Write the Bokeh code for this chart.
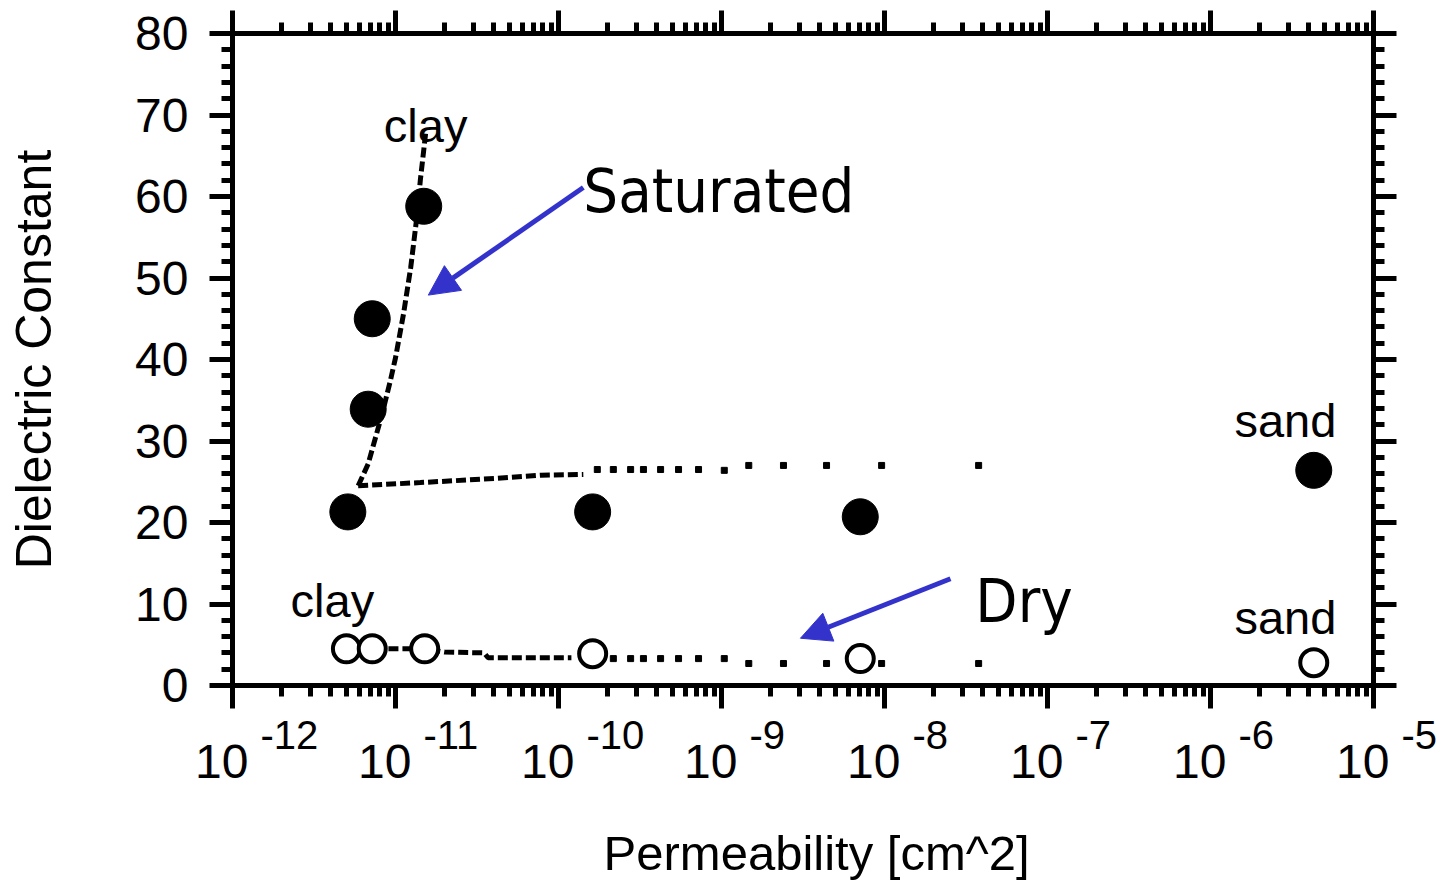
from bokeh.plotting import figure
from bokeh.models import (Range1d, LinearAxis, LogAxis, SingleIntervalTicker, LogTicker,
                          CustomJSTickFormatter, Label, Arrow, NormalHead, ColumnDataSource)
from bokeh.core.properties import value
from bokeh.embed import file_html
from bokeh.resources import INLINE

# ---------------- data ----------------
# measured points, saturated (filled) and dry (open)
sat_perm = [5.1e-12, 6.8e-12, 7.2e-12, 1.49e-11, 1.62e-10, 7.1e-9, 4.3e-6]
sat_eps = [21.3, 33.9, 45.0, 58.8, 21.3, 20.7, 26.4]
dry_perm = [5.0e-12, 7.2e-12, 1.51e-11, 1.62e-10, 7.1e-9, 4.3e-6]
dry_eps = [4.5, 4.5, 4.5, 3.9, 3.3, 2.8]

# model curve, saturated: steep clay branch
sat_fit_v_perm = [5.9e-12, 6.8e-12, 8.3e-12, 9.3e-12, 1.0e-11, 1.12e-11, 1.24e-11, 1.36e-11, 1.42e-11, 1.53e-11]
sat_fit_v_eps = [24.5, 27.2, 33.4, 37.4, 40.2, 45.6, 51.3, 57.9, 62.0, 67.7]
# model curve, saturated: flat branch (dashed part, then sparse dots)
sat_fit_h_perm = [5.9e-12, 1.42e-11, 4.1e-11, 7.8e-11, 1.42e-10]
sat_fit_h_eps = [24.5, 24.9, 25.4, 25.8, 25.9]
sat_dot_perm = [1.73e-10, 2.17e-10, 2.77e-10, 3.32e-10, 4.23e-10, 5.45e-10, 7.23e-10,
                1.04e-9, 1.47e-9, 2.40e-9, 4.41e-9, 9.6e-9, 3.78e-8]
sat_dot_eps = [26.5, 26.5, 26.5, 26.5, 26.5, 26.5, 26.5, 26.4, 27.0, 27.0, 27.0, 27.0, 27.0]

# model curve, dry
dry_fit_perm = [5.0e-12, 1.5e-11, 2.0e-11, 3.5e-11, 3.7e-11, 1.2e-10]
dry_fit_eps = [4.5, 4.5, 4.1, 4.0, 3.4, 3.4]
dry_dot_perm = [2.17e-10, 2.77e-10, 3.32e-10, 4.23e-10, 5.45e-10, 7.23e-10, 1.04e-9,
                1.47e-9, 2.40e-9, 4.41e-9, 9.6e-9, 3.78e-8]
dry_dot_eps = [3.3, 3.3, 3.3, 3.3, 3.3, 3.3, 3.3, 2.7, 2.7, 2.7, 2.7, 2.7]

# x tick labels
tick_exponents = [-12, -11, -10, -9, -8, -7, -6, -5]
tick_base = ["10", "10", "10", "10", "10", "10", "10", "10"]
tick_exp_text = ["-12", "-11", "-10", "-9", "-8", "-7", "-6", "-5"]

x_title = "Permeability [cm^2]"
y_title = "Dielectric Constant"

X_MIN, X_MAX = 1e-12, 1e-5
Y_MIN, Y_MAX = 0, 80

# ---------------- layout constants ----------------
FONT = "Liberation Sans"
CALLOUT_FONT = "DejaVu Sans Condensed"
BLUE = "#3333cc"
W, H = 1446, 881
LEFT, RIGHT, TOP = 232, 73, 33
FRAME_H = 652
MAIN_BOTTOM = 28
MAIN_H = TOP + FRAME_H + MAIN_BOTTOM
STRIP_H = H - MAIN_H

p = figure(width=W, height=MAIN_H, x_axis_type="log",
           x_range=Range1d(X_MIN, X_MAX), y_range=Range1d(Y_MIN, Y_MAX),
           output_backend="svg", toolbar_location=None,
           min_border_left=LEFT, min_border_right=RIGHT, min_border_top=TOP,
           min_border_bottom=MAIN_BOTTOM)
p.outline_line_color = None
p.xgrid.visible = False
p.ygrid.visible = False
p.background_fill_color = "white"
p.border_fill_color = "white"

blank = CustomJSTickFormatter(code="return ''")


def style_axis(ax):
    ax.axis_line_width = 5
    ax.axis_line_color = "black"
    ax.major_tick_line_width = 5
    ax.minor_tick_line_width = 5
    ax.major_tick_line_color = "black"
    ax.minor_tick_line_color = "black"
    ax.major_tick_out = 23
    ax.major_tick_in = 0
    ax.minor_tick_out = 11
    ax.minor_tick_in = 0


# bottom (log) axis: ticks only, labels drawn in the strip below
xb = p.xaxis[0]
xb.ticker = LogTicker(num_minor_ticks=10)
xb.formatter = blank
xb.major_label_text_font_size = "0px"
xb.major_label_standoff = 0
style_axis(xb)

# left axis
yl = p.yaxis[0]
yl.ticker = SingleIntervalTicker(interval=10, num_minor_ticks=5)
style_axis(yl)
yl.major_label_text_font = FONT
yl.major_label_text_font_size = "48px"
yl.major_label_text_color = "black"
yl.major_label_standoff = 21
yl.axis_label = y_title
yl.axis_label_text_font = FONT
yl.axis_label_text_font_size = "50px"
yl.axis_label_text_font_style = "normal"
yl.axis_label_text_color = "black"
yl.axis_label_standoff = 70

# top and right axes (ticks only)
xt = LogAxis(ticker=LogTicker(num_minor_ticks=10), formatter=blank,
             major_label_text_font_size="0px", major_label_standoff=0)
style_axis(xt)
p.add_layout(xt, "above")
yr = LinearAxis(ticker=SingleIntervalTicker(interval=10, num_minor_ticks=5), formatter=blank,
                major_label_text_font_size="0px", major_label_standoff=0)
style_axis(yr)
p.add_layout(yr, "right")

# ---------------- model curves ----------------
p.line(sat_fit_v_perm, sat_fit_v_eps, line_color="black", line_width=5, line_dash="10 4")
p.line(sat_fit_h_perm, sat_fit_h_eps, line_color="black", line_width=5, line_dash="10 4")
p.scatter(sat_dot_perm, sat_dot_eps, marker="square", size=6, color="black")
p.line(dry_fit_perm, dry_fit_eps, line_color="black", line_width=5, line_dash="10 4")
p.scatter(dry_dot_perm, dry_dot_eps, marker="square", size=6, color="black")

# ---------------- measured points ----------------
p.scatter(sat_perm, sat_eps, marker="circle", size=36, fill_color="black", line_color="black")
p.scatter(dry_perm, dry_eps, marker="circle", size=27, fill_color="white",
          line_color="black", line_width=4)

# ---------------- annotations ----------------
for (lx, ly, txt) in [(1.53e-11, 68.7, "clay"), (4.1e-12, 10.4, "clay"),
                      (2.88e-6, 32.5, "sand"), (2.88e-6, 8.3, "sand")]:
    p.add_layout(Label(x=lx, y=ly, text=txt, text_align="center", text_baseline="alphabetic",
                       text_font=FONT, text_font_size="47px", text_color="black"))

p.add_layout(Label(x=1.42e-10, y=60.7, text="Saturated", text_align="left",
                   text_baseline="alphabetic", text_font=CALLOUT_FONT,
                   text_font_size="61px", text_color="black"))
p.add_layout(Label(x=3.61e-8, y=10.4, text="Dry", text_align="left",
                   text_baseline="alphabetic", text_font=CALLOUT_FONT,
                   text_font_size="61px", text_color="black"))

p.add_layout(Arrow(x_start=1.42e-10, y_start=61.1, x_end=1.59e-11, y_end=47.9,
                   line_color=BLUE, line_width=5,
                   end=NormalHead(size=30, fill_color=BLUE, line_color=BLUE, line_width=1)))
p.add_layout(Arrow(x_start=2.54e-8, y_start=13.1, x_end=3.05e-9, y_end=5.8,
                   line_color=BLUE, line_width=5,
                   end=NormalHead(size=30, fill_color=BLUE, line_color=BLUE, line_width=1)))

# ---------------- strip below: x tick labels and x title ----------------
# same log scale as the main frame, extended so that the strip spans the full width
frame_w = W - LEFT - RIGHT
px_per_decade = frame_w / 7.0
sx_min = 10 ** (-12 - LEFT / px_per_decade)
sx_max = 10 ** (-12 + (W - LEFT) / px_per_decade)

strip = figure(width=W, height=STRIP_H, x_axis_type="log", title=None,
               x_range=Range1d(sx_min, sx_max), y_range=Range1d(STRIP_H, 0),
               x_axis_location=None, y_axis_location=None,
               output_backend="svg", toolbar_location=None,
               min_border_left=0, min_border_right=0, min_border_top=0, min_border_bottom=0)
strip.outline_line_color = None
strip.xgrid.visible = False
strip.ygrid.visible = False
strip.background_fill_color = "white"
strip.border_fill_color = "white"

tick_src = ColumnDataSource(dict(x=[10.0 ** e for e in tick_exponents],
                                 base=tick_base, exp=tick_exp_text))
# baselines in px within the strip
strip.text(x="x", y=48, text="base", source=tick_src, x_offset=16,
           text_align="right", text_baseline="alphabetic",
           text_font=value(FONT), text_font_size=value("48px"), text_color="black")
strip.text(x="x", y=21, text="exp", source=tick_src, x_offset=28,
           text_align="left", text_baseline="alphabetic",
           text_font=value(FONT), text_font_size=value("40px"), text_color="black")
strip.text(x=[3.83e-9], y=[139], text=[x_title],
           text_align="center", text_baseline="alphabetic",
           text_font=value(FONT), text_font_size=value("49px"), text_color="black")

open("out.html", "w").write(file_html([p, strip], INLINE))
